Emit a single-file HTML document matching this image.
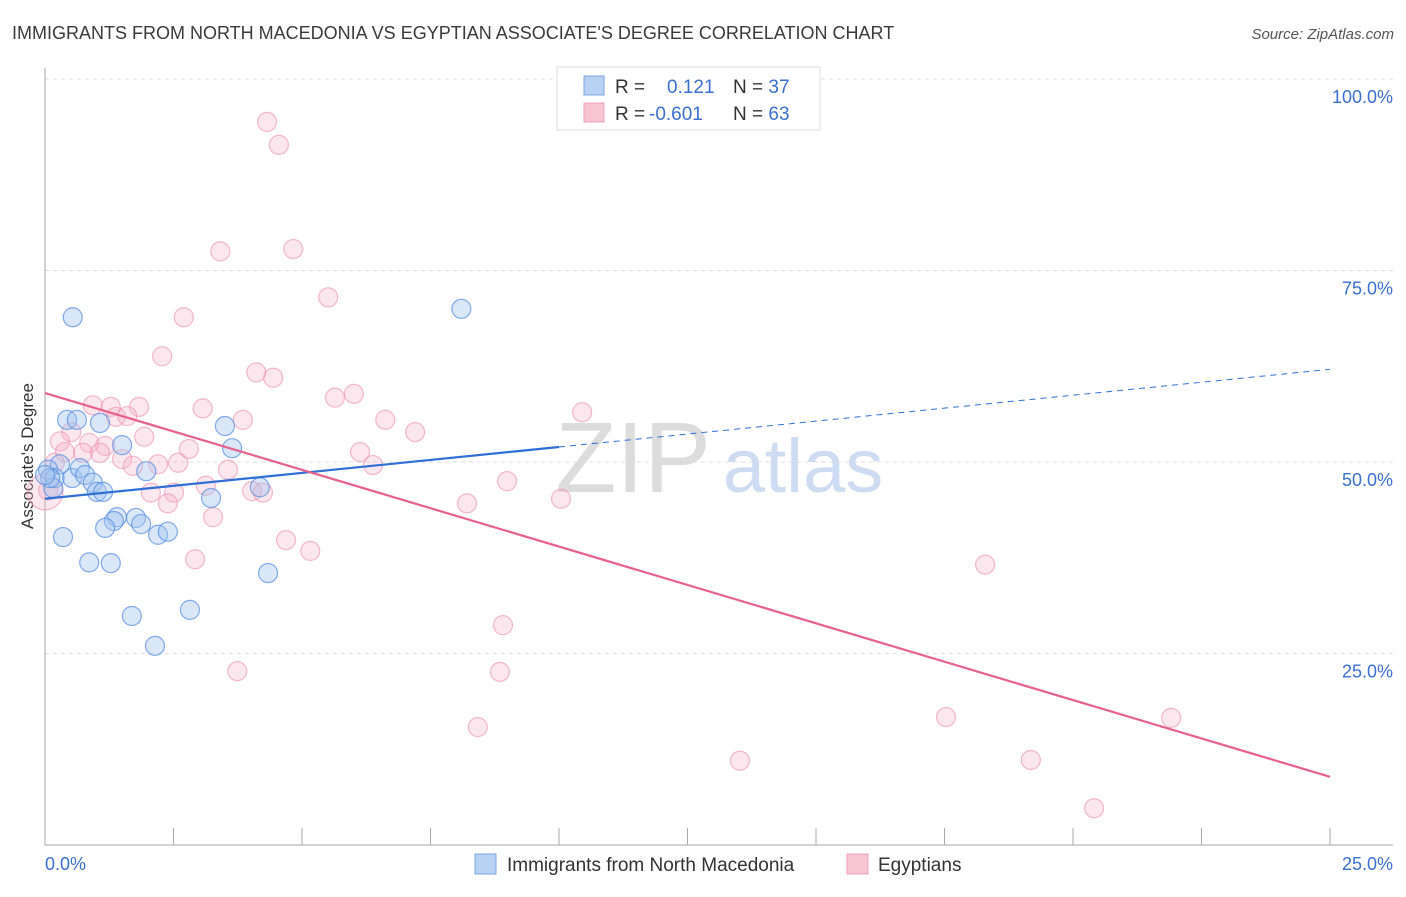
<!DOCTYPE html>
<html><head><meta charset="utf-8"><style>
body{margin:0;background:#fff;font-family:"Liberation Sans",sans-serif;}
svg text{font-family:"Liberation Sans",sans-serif;}
</style></head><body>
<svg id="c" width="1406" height="892" xmlns="http://www.w3.org/2000/svg">
<text x="12" y="39" font-size="18" fill="#3a3a3a">IMMIGRANTS FROM NORTH MACEDONIA VS EGYPTIAN ASSOCIATE'S DEGREE CORRELATION CHART</text>
<text x="1394" y="39" font-size="15" fill="#555" text-anchor="end" font-style="italic">Source: ZipAtlas.com</text>
<text x="33" y="456" font-size="17" fill="#333" text-anchor="middle" transform="rotate(-90 33 456)">Associate's Degree</text>
<g id="grid"></g>
<text x="633" y="492" font-size="100" fill="#dcdcdc" font-family="Liberation Serif" text-anchor="middle">ZIP</text>
<text x="803" y="492" font-size="76" fill="#cddcf2" text-anchor="middle">atlas</text>
<g id="pts"></g>
<g id="lines"></g>
<g>
<rect x="557" y="67" width="263" height="63" fill="#fff" stroke="#ddd"/>
<rect x="584" y="76" width="20" height="19" fill="#b8d2f4" stroke="#7aa6e0"/>
<rect x="584" y="103" width="20" height="19" fill="#f8c4d4" stroke="#eea0b8"/>
<text x="615" y="93" font-size="19" fill="#333">R = <tspan fill="#3a70d0" x="667">0.121</tspan><tspan fill="#333" x="733">N = </tspan><tspan fill="#3a70d0">37</tspan></text>
<text x="615" y="120" font-size="19" fill="#333">R = <tspan fill="#3a70d0" x="649">-0.601</tspan><tspan fill="#333" x="733">N = </tspan><tspan fill="#3a70d0">63</tspan></text>
</g>
<g>
<rect x="475" y="854" width="21" height="20" fill="#b8d2f4" stroke="#7aa6e0"/>
<text x="507" y="871" font-size="19" fill="#333">Immigrants from North Macedonia</text>
<rect x="847" y="854" width="21" height="20" fill="#f8c4d4" stroke="#eea0b8"/>
<text x="878" y="871" font-size="19" fill="#333">Egyptians</text>
</g>
</svg>
<script>
const blueX=[0.54,8.10,0.43,0.62,1.07,3.50,1.50,3.64,1.97,0.29,0.06,0.19,0.53,0.68,0.78,0.93,1.01,1.13,3.23,4.18,0.16,1.40,1.34,1.77,1.87,1.17,2.20,2.39,0.35,0.86,1.28,4.34,1.69,2.82,2.14,0.10,0.0];
const blueY=[68.9,70.0,55.5,55.5,55.1,54.7,52.2,51.8,48.8,49.7,49.0,47.9,47.9,49.2,48.3,47.3,46.1,46.1,45.3,46.7,46.6,42.8,42.3,42.7,41.9,41.4,40.5,40.9,40.2,36.9,36.8,35.5,29.9,30.7,26.0,47.9,48.3];
const pinkX=[4.32,4.55,3.41,4.83,5.51,2.70,2.28,4.11,4.44,6.01,5.64,0.93,1.28,1.83,3.07,1.38,1.60,3.85,6.62,10.45,7.20,0.51,1.93,0.29,0.86,1.17,2.80,0.39,0.74,1.07,6.13,1.50,1.71,2.20,2.59,3.56,6.38,0.19,8.99,0.06,3.13,2.06,2.51,4.03,4.24,8.21,10.04,2.39,3.27,4.69,5.16,2.92,18.29,8.91,3.74,8.85,8.42,17.53,21.91,13.52,19.18,20.41,0.0];
const pinkY=[94.4,91.4,77.5,77.8,71.5,68.9,63.8,61.7,61.0,58.9,58.4,57.4,57.2,57.2,57.0,55.9,56.0,55.5,55.5,56.5,53.9,53.9,53.3,52.7,52.5,52.1,51.7,51.3,51.2,51.2,51.3,50.4,49.5,49.7,49.9,49.0,49.6,49.9,47.5,46.3,46.9,46.0,46.0,46.2,46.0,44.6,45.2,44.6,42.8,39.8,38.4,37.3,36.6,28.7,22.7,22.6,15.4,16.7,16.6,11.0,11.1,4.8,46.1];
const blueTrend=[45.2,62.1];
const pinkTrend=[59.0,8.9];
const yTicks=[25,50,75,100];
const yTickLabels=["25.0%","50.0%","75.0%","100.0%"];
const xTicks=[0,2.5,5,7.5,10,12.5,15,17.5,20,22.5,25];
const NS="http://www.w3.org/2000/svg";
const X=v=>45+v/25*1285, Y=v=>845-v*7.66;
function mk(tag,attrs,parent){const e=document.createElementNS(NS,tag);for(const k in attrs)e.setAttribute(k,attrs[k]);parent.appendChild(e);return e;}
const grid=document.getElementById('grid');
yTicks.forEach((t,i)=>{
 const l=mk('line',{x1:45,x2:1393,y1:Y(t),y2:Y(t),stroke:'#ddd','stroke-dasharray':'4,4'},grid);
 
 
 const tx=mk('text',{x:1393,y:Y(t)+24,'font-size':18,fill:'#3a70d0','text-anchor':'end'},grid);
 tx.textContent=yTickLabels[i];
 
 
});
let ax=mk('line',{x1:45,x2:45,y1:68,y2:845,stroke:'#aaa'},grid);


ax=mk('line',{x1:45,x2:1393,y1:845,y2:845,stroke:'#aaa'},grid);


xTicks.forEach(t=>{
 const l=mk('line',{x1:X(t),x2:X(t),y1:828,y2:845,stroke:'#aaa'},grid);
 
 
});
let t0=mk('text',{x:45,y:870,'font-size':18,fill:'#3a70d0'},grid);t0.textContent='0.0%';


let t1=mk('text',{x:1393,y:870,'font-size':18,fill:'#3a70d0','text-anchor':'end'},grid);t1.textContent='25.0%';


const pts=document.getElementById('pts');
pinkX.forEach((x,i)=>{
 const big=(i===pinkX.length-1);
 const c=mk('circle',{cx:X(x),cy:Y(pinkY[i]),r:big?18:9.5,fill:'rgba(246,175,198,0.3)',stroke:'rgba(236,140,172,0.6)','stroke-width':1.2},pts);
 
 
});
blueX.forEach((x,i)=>{
 const c=mk('circle',{cx:X(x),cy:Y(blueY[i]),r:9.5,fill:'rgba(160,196,240,0.4)',stroke:'rgba(80,138,222,0.7)','stroke-width':1.2},pts);
 
 
});
const lines=document.getElementById('lines');
const by=x=>blueTrend[0]+(blueTrend[1]-blueTrend[0])*x/25;
let l=mk('line',{x1:X(0),y1:Y(by(0)),x2:X(10),y2:Y(by(10)),stroke:'#2f6fd6','stroke-width':2.2},lines);


l=mk('line',{x1:X(10),y1:Y(by(10)),x2:X(25),y2:Y(by(25)),stroke:'#2f6fd6','stroke-width':1,'stroke-dasharray':'6,5'},lines);


l=mk('line',{x1:X(0),y1:Y(pinkTrend[0]),x2:X(25),y2:Y(pinkTrend[1]),stroke:'#e8608e','stroke-width':2.2},lines);


</script>
</body></html>
